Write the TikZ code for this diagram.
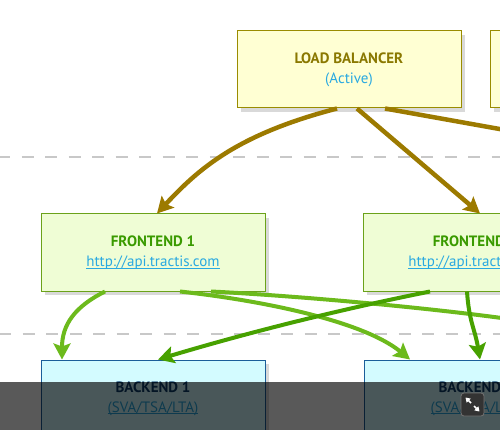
\documentclass[tikz,border=0pt]{standalone}
\usepackage{fontspec}
\setmainfont{PT Sans}
\usetikzlibrary{arrows.meta,calc}
\definecolor{lbfill}{HTML}{FFFFD3}
\definecolor{lbdraw}{HTML}{9A8C00}
\definecolor{lbtext}{HTML}{8A7800}
\definecolor{linkblue}{HTML}{29A9E1}
\definecolor{fefill}{HTML}{EFFDD5}
\definecolor{fedraw}{HTML}{6BA21A}
\definecolor{fetext}{HTML}{3A9A00}
\definecolor{befill}{HTML}{D3FBFF}
\definecolor{bedraw}{HTML}{1B5E9A}
\definecolor{betext}{HTML}{0E3D6B}
\definecolor{olivearrow}{HTML}{9C7A00}
\definecolor{lightgreen}{HTML}{6CBA1C}
\definecolor{darkgreen}{HTML}{47A100}
\definecolor{shadowgray}{HTML}{D9D9D9}
\definecolor{dashgray}{HTML}{C8C8C8}
\newcommand\myul[1]{{\setbox0\hbox{#1}\rlap{\copy0}\rule[-1.8pt]{\wd0}{0.6pt}}}
\begin{document}
\begin{tikzpicture}[x=1pt,y=-1pt,
  box/.style={rectangle, minimum width=224pt, minimum height=77pt, inner sep=0pt,
    line width=1pt, align=center, font=\fontsize{15}{20}\selectfont,
    preaction={fill=shadowgray, transform canvas={xshift=4pt,yshift=-4pt}}},
  lbbox/.style={box, draw=lbdraw, fill=lbfill},
  febox/.style={box, draw=fedraw, fill=fefill},
  bebox/.style={box, draw=bedraw, fill=befill},
  sep/.style={dashgray, line width=2pt, dash pattern=on 12pt off 11.5pt},
  tipx/.style={-{Stealth[length=16pt,width=17pt,inset=3pt]}},
  olivelink/.style={tipx, olivearrow, line width=4.5pt},
  lglink/.style={tipx, lightgreen, line width=4pt},
  dglink/.style={tipx, darkgreen, line width=4pt},
  iconbox/.style={rectangle, rounded corners=3pt, minimum size=23pt, fill=black!80, draw=black!55, line width=0.8pt},
  iconarrow/.style={white, line width=1.6pt, -{Triangle[length=4.5pt,width=5.5pt]}}
]
\useasboundingbox (0,0) rectangle (500,430);
\clip (0,0) rectangle (500,430);

% separators
\draw[sep] (-2,157.5) -- (500,157.5);
\draw[sep] (-1,333.5) -- (500,333.5);

% boxes
\node[lbbox] (lb) at (349,69.5) {{\bfseries\color{lbtext}LOAD BALANCER}\\{\color{linkblue}(Active)}};
\node[lbbox] (lb2) at (602,69.5) {};
\node[febox] (fe1) at (153,252.5) {{\bfseries\color{fetext}FRONTEND 1}\\{\color{linkblue}\myul{http://api.tractis.com}}};
\node[febox] (fe2) at (475,252.5) {{\bfseries\color{fetext}FRONTEND 2}\\{\color{linkblue}\myul{http://api.tractis.com}}};
\node[bebox] (be1) at (153,398.5) {{\bfseries\color{betext}BACKEND 1}\\{\color{linkblue}\myul{(SVA/TSA/LTA)}}};
\node[bebox] (be2) at (476,398.5) {{\bfseries\color{betext}BACKEND 2}\\{\color{linkblue}\myul{(SVA/TSA/LTA)}}};

\coordinate (lbout) at (600,147);
\coordinate (feout) at (600,335);

% load balancer links
\draw[olivelink] ([xshift=-12pt]lb.south) .. controls +(-100,26) and +(42,-45) .. ([xshift=4pt]fe1.north);
\draw[olivelink] ([xshift=8pt]lb.south) -- ([xshift=5pt]fe2.north);
\draw[olivearrow, line width=4.5pt] ([xshift=36pt]lb.south) -- (lbout);

% frontend 1 links
\draw[lglink] ([xshift=-48pt]fe1.south) .. controls +(-30,15) and +(0,-35) .. ([xshift=-91pt]be1.north);
\draw[lglink] ([xshift=27pt]fe1.south) .. controls +(90,10) and +(-45,-37) .. ([xshift=-66pt]be2.north);
\draw[lightgreen, line width=4pt] ([xshift=58pt]fe1.south) .. controls +(100,5) and +(-80,-20) .. (feout);

% frontend 2 links
\draw[dglink] ([xshift=-45pt]fe2.south) .. controls +(-90,18) and +(90,-27) .. ([xshift=5pt]be1.north);
\draw[dglink] ([xshift=-8pt]fe2.south) .. controls +(2,30) and +(-5,-30) .. ([xshift=4pt]be2.north);

% overlay bar
\fill[black, opacity=0.65] (0,382) rectangle (500,430);
\node[iconbox] (expand) at (472.5,404.5) {};
\draw[iconarrow] ([shift={(-1.5,-1.5)}]expand.center) -- ([shift={(-7,-7)}]expand.center);
\draw[iconarrow] ([shift={(1.5,1.5)}]expand.center) -- ([shift={(7,7)}]expand.center);
\end{tikzpicture}
\end{document}
